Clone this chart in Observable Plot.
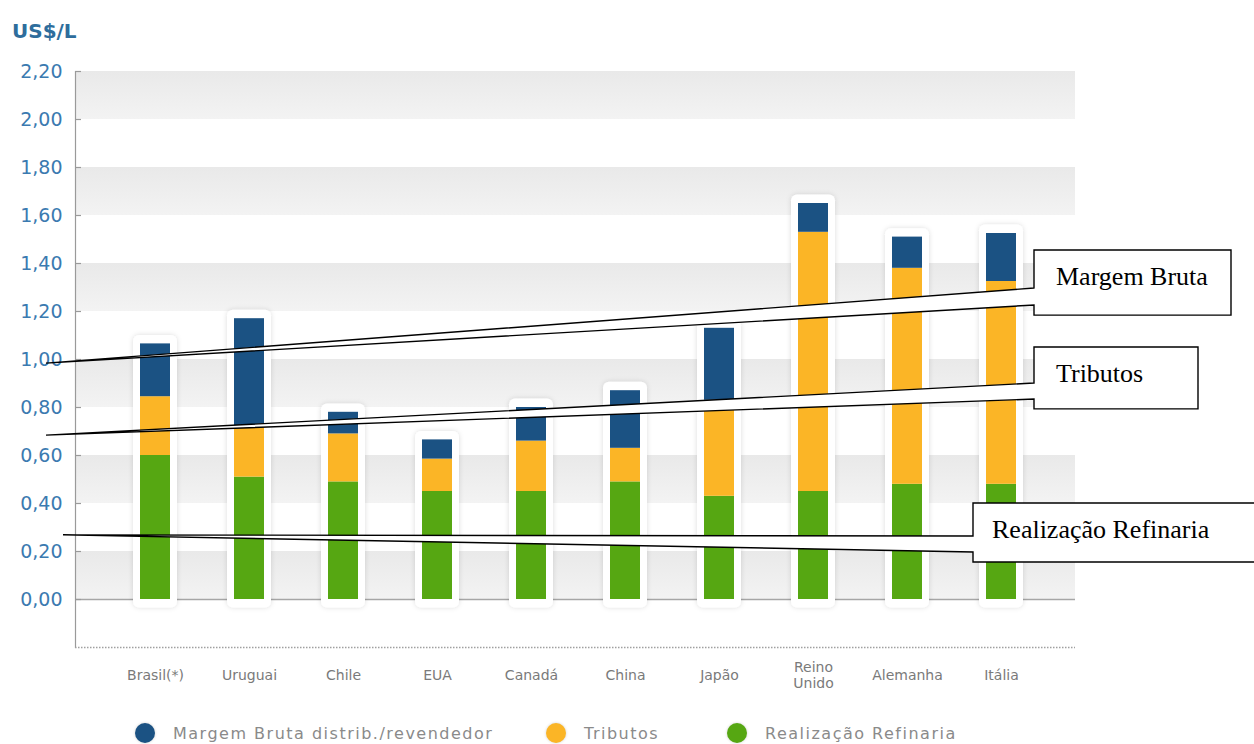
<!DOCTYPE html>
<html>
<head>
<meta charset="utf-8">
<script src="https://cdn.jsdelivr.net/npm/d3@7"></script>
<script src="https://cdn.jsdelivr.net/npm/@observablehq/plot@0.6"></script>
<style>
  body { margin: 0; background: #fff; }
  #wrap { position: relative; width: 1254px; height: 744px; overflow: hidden; background: #fff; }
  #chart { position: absolute; left: 0; top: 0; }
  #title { position: absolute; left: 12px; top: 21px; font: bold 20px "DejaVu Sans", sans-serif; line-height: 20px; color: #2e6d9c; z-index: 2; }
  #legend { position: absolute; left: 0; top: 723px; width: 1254px; height: 20px; font: 16px "DejaVu Sans", sans-serif; letter-spacing: 1.5px; color: #8a8a8a; z-index: 2; }
  .item { position: absolute; top: 0; height: 20px; display: flex; align-items: center; white-space: nowrap; }
  .dot { width: 20px; height: 20px; border-radius: 50%; margin-right: 18px; box-shadow: 0 0 3px rgba(0,0,0,0.18); }
</style>
</head>
<body>
<div id="wrap">
  <div id="chart"></div>
  <div id="title">US$/L</div>
  <div id="legend"></div>
</div>
<script>
// ---- data ----
const countries = ["Brasil(*)", "Uruguai", "Chile", "EUA", "Canadá", "China", "Japão", "Reino Unido", "Alemanha", "Itália"];
const realizacao = [0.60, 0.51, 0.49, 0.45, 0.45, 0.49, 0.43, 0.45, 0.48, 0.48];
const tributos   = [0.245, 0.21, 0.20, 0.135, 0.21, 0.14, 0.40, 1.08, 0.90, 0.845];
const margem     = [0.22, 0.45, 0.09, 0.08, 0.14, 0.24, 0.30, 0.12, 0.13, 0.20];
const seriesNames = ["Realização Refinaria", "Tributos", "Margem Bruta distrib./revendedor"];
const seriesColors = ["#56a712", "#fbb526", "#1b5283"];
const legendOrder = ["Margem Bruta distrib./revendedor", "Tributos", "Realização Refinaria"];
const yTickValues = [0, 0.2, 0.4, 0.6, 0.8, 1.0, 1.2, 1.4, 1.6, 1.8, 2.0, 2.2];
const yTickLabels = ["0,00", "0,20", "0,40", "0,60", "0,80", "1,00", "1,20", "1,40", "1,60", "1,80", "2,00", "2,20"];
const calloutLabels = ["Margem Bruta", "Tributos", "Realização Refinaria"];

// ---- tables built from the arrays ----
const valuesBySeries = [realizacao, tributos, margem];
const stacked = countries.flatMap((c, i) =>
  seriesNames.map((s, k) => ({country: c, series: s, value: valuesBySeries[k][i]})));
const totals = countries.map((c, i) => ({country: c, total: realizacao[i] + tributos[i] + margem[i]}));
const bands = yTickValues.filter((v, i) => i % 2 === 0 && i < yTickValues.length - 1);

const W = 1254, H = 710;
const mL = 75, mR = 179;
const frameW = W - mL - mR;

const plot = Plot.plot({
  width: W, height: H,
  marginTop: 71, marginBottom: 63, marginLeft: mL, marginRight: mR,
  style: {fontFamily: "DejaVu Sans, sans-serif", background: "white", overflow: "visible"},
  x: {domain: countries, range: [107, 1048], padding: 0, axis: null},
  y: {domain: [-0.2, 2.2], axis: null},
  color: {domain: seriesNames, range: seriesColors},
  marks: [
    Plot.rectY(bands, {y1: d => d, y2: d => d + 0.2, fill: "url(#bandGrad)"}),
    Plot.ruleY([0], {stroke: "#a6a6a6", strokeWidth: 1.5}),
    Plot.barY(totals, {x: "country", y1: d => -0.035, y2: d => d.total + 0.035, insetLeft: 25, insetRight: 25, fill: "white", rx: 6}),
    Plot.barY(stacked, {x: "country", y: "value", fill: "series", order: seriesNames, insetLeft: 32, insetRight: 32}),
    Plot.frame({anchor: "left", stroke: "#9a9a9a", strokeWidth: 1.2}),
    Plot.ruleY([-0.2], {stroke: "#a0a0a0", strokeWidth: 1.5, strokeDasharray: "1.5,1.5"}),
    Plot.tickY(yTickValues, {y: d => d, insetRight: frameW - 6, stroke: "#9a9a9a", strokeWidth: 1.2}),
    Plot.axisY({ticks: yTickValues, label: null, tickSize: 0, tickPadding: 13, fontSize: 19, color: "#3b7ab0",
      tickFormat: d => yTickLabels[yTickValues.findIndex(v => Math.abs(v - d) < 1e-9)]}),
    Plot.text(countries, {x: d => d, frameAnchor: "bottom", dy: 27, lineAnchor: "middle",
      text: d => d.replace(" ", "\n"), fontSize: 14, fill: "#7a7a7a", lineHeight: 1.15})
  ]
});

const svg = d3.select(plot);
svg.insert("defs", ":first-child").html(`
  <linearGradient id="bandGrad" x1="0" y1="0" x2="0" y2="1">
    <stop offset="0" stop-color="#e9e9e9"/>
    <stop offset="1" stop-color="#f3f3f3"/>
  </linearGradient>
  <filter id="halo" x="-50%" y="-10%" width="200%" height="120%">
    <feDropShadow dx="0" dy="0" stdDeviation="2.5" flood-color="#000" flood-opacity="0.14"/>
  </filter>`);
const barGroups = plot.querySelectorAll('g[aria-label="bar"]');
if (barGroups.length) barGroups[0].setAttribute("filter", "url(#halo)");

document.getElementById("chart").appendChild(plot);

// ---- callout annotations (y in chart units via the y scale, x in page pixels) ----
const yS = plot.scale("y");
const calloutGeom = [
  {tipX: 46, tipY: 0.983, x1: 1034, x2: 1231, top: 1.454, bottom: 1.183, gapTop: 1.296, gapBottom: 1.225, textX: 1056, base: 1.31},
  {tipX: 46, tipY: 0.683, x1: 1034, x2: 1198, top: 1.050, bottom: 0.792, gapTop: 0.900, gapBottom: 0.833, textX: 1056, base: 0.905},
  {tipX: 63, tipY: 0.267, x1: 973,  x2: 1262, top: 0.400, bottom: 0.154, gapTop: 0.2625, gapBottom: 0.196, textX: 992, base: 0.255}
];
const ann = svg.append("g").attr("text-anchor", "start");
calloutGeom.forEach((g, i) => {
  const Y = v => yS.apply(v);
  const pts = [[g.x1, Y(g.gapTop)], [g.tipX, Y(g.tipY)], [g.x1, Y(g.gapBottom)], [g.x1, Y(g.bottom)],
               [g.x2, Y(g.bottom)], [g.x2, Y(g.top)], [g.x1, Y(g.top)]];
  ann.append("path").attr("d", "M" + pts.map(p => p.join(",")).join("L") + "Z")
    .attr("fill", "white").attr("stroke", "black").attr("stroke-width", 1.4).attr("stroke-linejoin", "miter");
  ann.append("text").attr("x", g.textX).attr("y", Y(g.base)).attr("text-anchor", "start").text(calloutLabels[i])
    .attr("font-family", "Liberation Serif, Times New Roman, serif").attr("font-size", 26).attr("fill", "black");
});

// ---- legend ----
const legendLeft = [135, 546, 727];
const legend = document.getElementById("legend");
legendOrder.forEach((name, i) => {
  const item = document.createElement("div"); item.className = "item";
  item.style.left = legendLeft[i] + "px";
  const dot = document.createElement("span"); dot.className = "dot";
  dot.style.background = seriesColors[seriesNames.indexOf(name)];
  const label = document.createElement("span"); label.textContent = name;
  item.appendChild(dot); item.appendChild(label); legend.appendChild(item);
});
</script>
</body>
</html>
